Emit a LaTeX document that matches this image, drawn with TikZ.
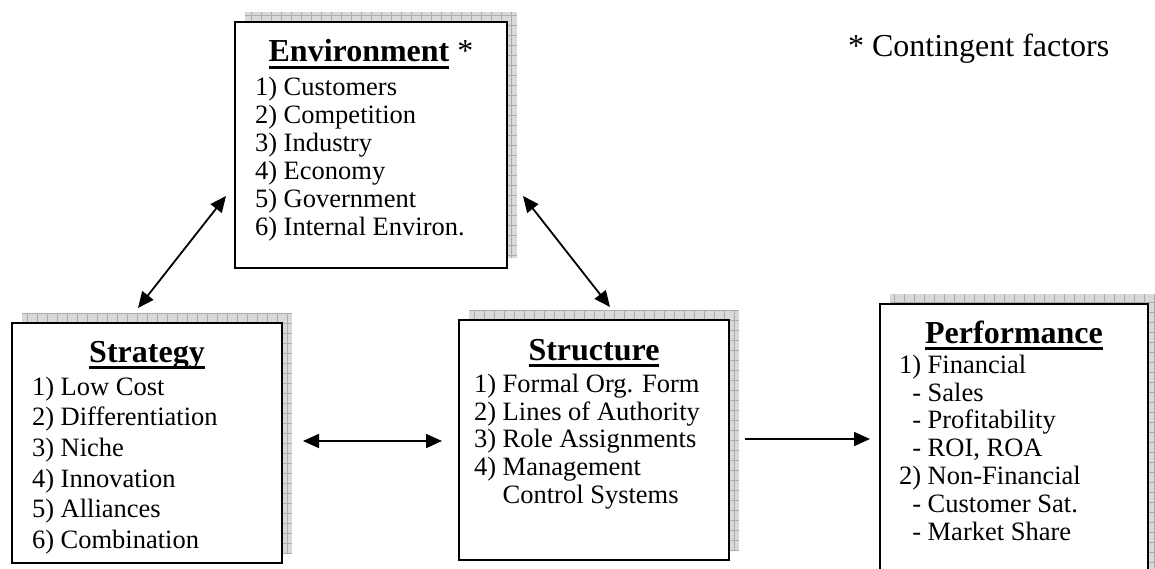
\documentclass[tikz,border=0pt]{standalone}
\usepackage{fontspec}
\setmainfont{Liberation Serif}
\usepackage{tikz}
\usetikzlibrary{arrows.meta}
\usetikzlibrary{shadows}
\newcommand{\ttlline}[1]{\begingroup\setbox0\hbox{#1}\rlap{\raisebox{-7pt}{\rule{\wd0}{2.6pt}}}\box0\endgroup}

\begin{document}
\begin{tikzpicture}[x=1pt, y=-1pt,
		every node/.style={inner sep=0pt, outer sep=0pt},
		>={Triangle[length=16pt, width=14pt]},
		box/.style={draw, line width=2.2pt, fill=white,
			drop shadow={shadow xshift=10pt, shadow yshift=10pt, fill=gray!30, opacity=1,
				path picture={\draw[gray!65, line width=0.6pt, step=10pt] (path picture bounding box.south west) grid (path picture bounding box.north east);}}},
		title/.style={font=\fontsize{32pt}{36pt}\selectfont},
		list/.style={align=left, font=\fontsize{26.5pt}{27.8pt}\selectfont},
		conn/.style={line width=1.8pt}
	]
	\useasboundingbox (0,0) rectangle (1155,569);
	\clip (0,0) rectangle (1155,569);

	\node[box, minimum width=272pt, minimum height=246pt] (env) at (371,145) {};
	\node[box, minimum width=270pt, minimum height=240pt] (strat) at (147,443) {};
	\node[box, minimum width=270pt, minimum height=240pt] (struc) at (594,440) {};
	\node[box, minimum width=268pt, minimum height=296pt] (perf) at (1014,452) {};

	\node[title, anchor=base] (envtitle) at (371,62) {\ttlline{\textbf{Environment}} *};
	\node[list, anchor=north west, font=\fontsize{26.5pt}{28pt}\selectfont] (envlist) at (255,77) {
		1) Customers\\
		2) Competition\\
		3) Industry\\
		4) Economy\\
		5) Government\\
		6) Internal Environ.};

	\node[title, anchor=base] (strattitle) at (147,362) {\ttlline{\textbf{Strategy}}};
	\node[list, anchor=north west, font=\fontsize{26.5pt}{30.6pt}\selectfont] (stratlist) at (32,377) {
		1) Low Cost\\
		2) Differentiation\\
		3) Niche\\
		4) Innovation\\
		5) Alliances\\
		6) Combination};

	\node[title, anchor=base] (structitle) at (594,360) {\ttlline{\textbf{Structure}}};
	\node[list, anchor=north west] (struclist) at (474,374) {
		1) Formal Org. Form\\
		2) Lines of Authority\\
		3) Role Assignments\\
		4) Management\\
		\phantom{4) }Control Systems};

	\node[title, anchor=base] (perftitle) at (1014,343) {\ttlline{\textbf{Performance}}};
	\node[list, anchor=north west] (perflist) at (899,355) {
		1) Financial\\
		\hspace{0.5em}- Sales\\
		\hspace{0.5em}- Profitability\\
		\hspace{0.5em}- ROI, ROA\\
		2) Non-Financial\\
		\hspace{0.5em}- Customer Sat.\\
		\hspace{0.5em}- Market Share};

	\node[title, anchor=base west] (note) at (848,57) {* Contingent factors};

	\coordinate (env-l) at (226,196);
	\coordinate (strat-t) at (138,308);
	\coordinate (env-r) at (523,196);
	\coordinate (struc-t) at (610,307);
	\coordinate (strat-r) at (303,441);
	\coordinate (struc-l) at (442,441);
	\coordinate (struc-r) at (745,439);
	\coordinate (perf-l) at (870,439);

	\draw[conn, <->] (env-l)--(strat-t);
	\draw[conn, <->] (env-r)--(struc-t);
	\draw[conn, <->] (strat-r)--(struc-l);
	\draw[conn, ->] (struc-r)--(perf-l);
\end{tikzpicture}
\end{document}
